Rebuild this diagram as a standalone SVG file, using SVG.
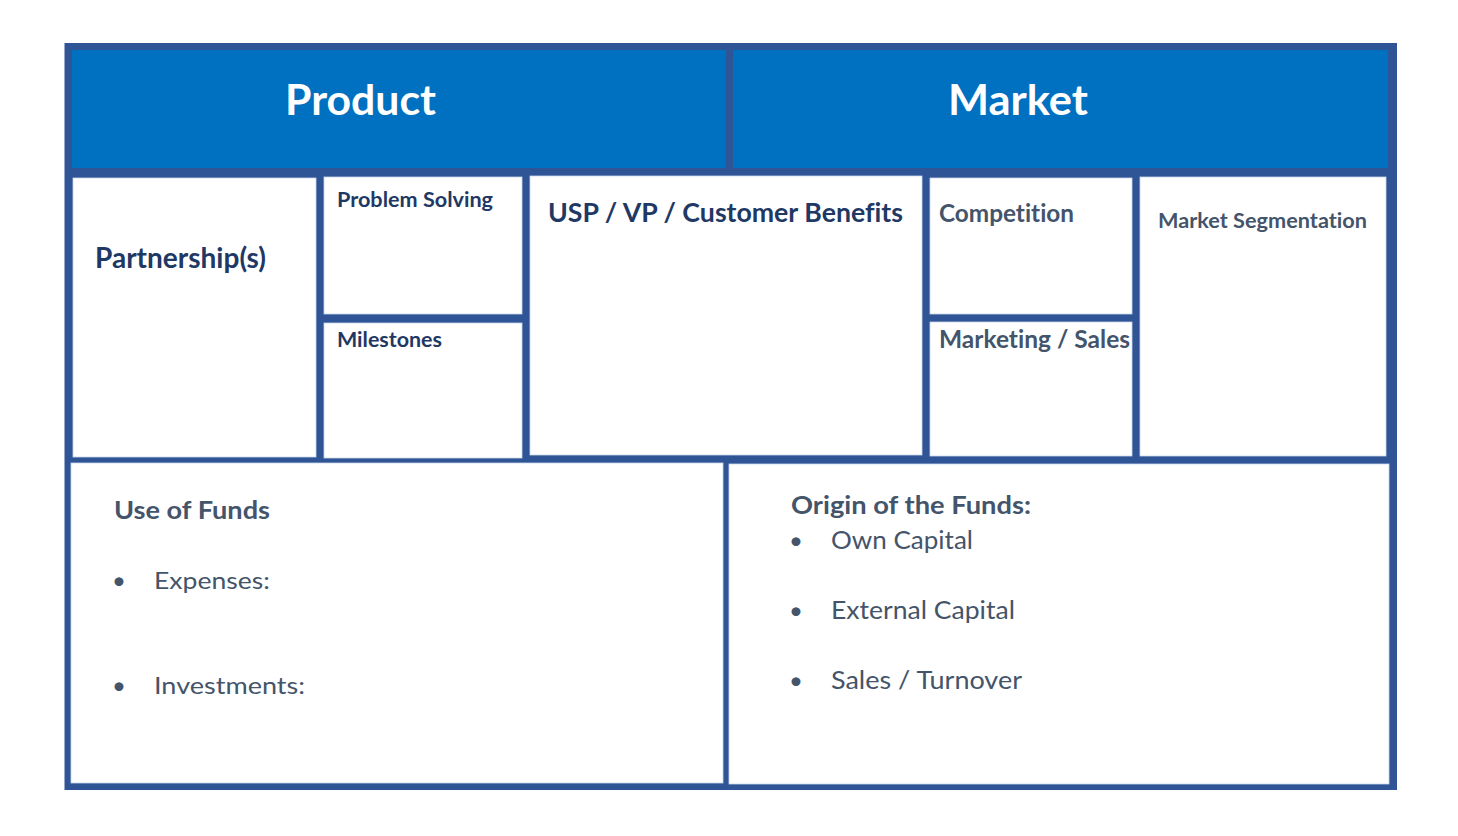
<svg xmlns="http://www.w3.org/2000/svg" width="1458" height="836" viewBox="0 0 1458 836">
<style>
.frame{fill:#2F5597}
.hdr{fill:#0070C0}
.box{fill:#FFFFFF;stroke:#C9D6EC;stroke-width:0.8}
text{font-family:Lato,"Open Sans","Liberation Sans",sans-serif;font-variant-ligatures:none;font-feature-settings:"liga" 0,"clig" 0}
.ht{fill:#FFFFFF;font-weight:bold;font-size:42px}
.nv{fill:#1F3864;font-weight:bold}
.sl{fill:#44546A;font-weight:bold}
.rg{fill:#44546A;font-weight:normal}
</style>
<rect width="1458" height="836" fill="#FFFFFF"/>
<rect class="frame" x="64.5" y="43" width="1332.5" height="747"/>
<g id="product">
<rect class="hdr" x="72" y="50" width="654" height="118"/>
<text class="ht" x="285" y="115" textLength="151" lengthAdjust="spacingAndGlyphs">Product</text>
</g>
<g id="market">
<rect class="hdr" x="733" y="50" width="655" height="118"/>
<text class="ht" x="948" y="115" textLength="140" lengthAdjust="spacingAndGlyphs">Market</text>
</g>
<g id="partnerships">
<rect class="box" x="73" y="178" width="243" height="279"/>
<text class="nv" x="95" y="268" font-size="28" textLength="171" lengthAdjust="spacingAndGlyphs">Partnership(s)</text>
</g>
<g id="problem-solving">
<rect class="box" x="324" y="177" width="198" height="137"/>
<text class="nv" x="337" y="207" font-size="21" textLength="156" lengthAdjust="spacingAndGlyphs">Problem Solving</text>
</g>
<g id="milestones">
<rect class="box" x="324" y="323" width="198" height="135"/>
<text class="nv" x="337" y="347" font-size="21" textLength="105" lengthAdjust="spacingAndGlyphs">Milestones</text>
</g>
<g id="usp">
<rect class="box" x="530" y="176" width="392" height="279"/>
<text class="nv" x="548" y="222" font-size="26" textLength="355" lengthAdjust="spacingAndGlyphs">USP / VP / Customer Benefits</text>
</g>
<g id="competition">
<rect class="box" x="930" y="178" width="202" height="136"/>
<text class="sl" x="939" y="222" font-size="24" textLength="135" lengthAdjust="spacingAndGlyphs">Competition</text>
</g>
<g id="marketing-sales">
<rect class="box" x="930" y="322" width="202" height="134"/>
<text class="sl" x="939" y="348" font-size="24" textLength="191" lengthAdjust="spacingAndGlyphs">Marketing / Sales</text>
</g>
<g id="market-segmentation">
<rect class="box" x="1140" y="177" width="246" height="279"/>
<text class="sl" x="1158" y="228" font-size="20" textLength="209" lengthAdjust="spacingAndGlyphs">Market Segmentation</text>
</g>
<g id="use-of-funds">
<rect class="box" x="71" y="463" width="652" height="320"/>
<text class="sl" x="114" y="519" font-size="24" textLength="156" lengthAdjust="spacingAndGlyphs">Use of Funds</text>
<text class="rg" x="112" y="589" font-size="24">•</text>
<text class="rg" x="154" y="589" font-size="24" textLength="116" lengthAdjust="spacingAndGlyphs">Expenses:</text>
<text class="rg" x="112" y="694" font-size="24">•</text>
<text class="rg" x="154" y="694" font-size="24" textLength="151" lengthAdjust="spacingAndGlyphs">Investments:</text>
</g>
<g id="origin-of-funds">
<rect class="box" x="729" y="464" width="660" height="320"/>
<text class="sl" x="791" y="514" font-size="24" textLength="240" lengthAdjust="spacingAndGlyphs">Origin of the Funds:</text>
<text class="rg" x="789" y="549" font-size="24">•</text>
<text class="rg" x="831" y="549" font-size="25" textLength="142" lengthAdjust="spacingAndGlyphs">Own Capital</text>
<text class="rg" x="789" y="619" font-size="24">•</text>
<text class="rg" x="831" y="619" font-size="25" textLength="184" lengthAdjust="spacingAndGlyphs">External Capital</text>
<text class="rg" x="789" y="689" font-size="24">•</text>
<text class="rg" x="831" y="689" font-size="25" textLength="191" lengthAdjust="spacingAndGlyphs">Sales / Turnover</text>
</g>
</svg>
